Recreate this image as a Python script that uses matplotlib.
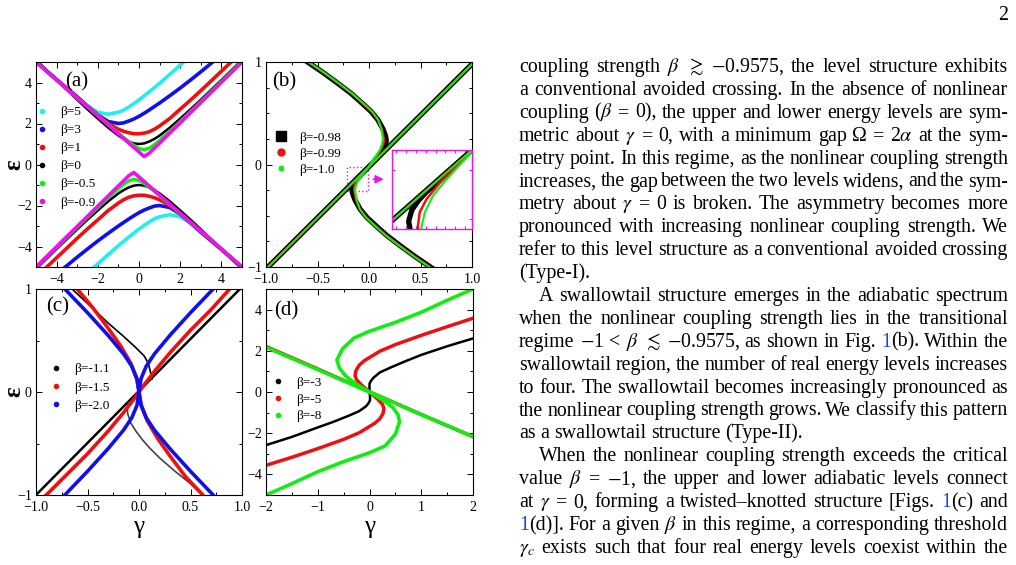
import matplotlib
matplotlib.use("Agg")
import matplotlib.pyplot as plt
from matplotlib.lines import Line2D
from matplotlib.patches import Rectangle
from matplotlib.ticker import MultipleLocator, FixedLocator, FixedFormatter
from matplotlib.transforms import IdentityTransform

plt.rcParams['font.family'] = ['Liberation Serif', 'DejaVu Serif']
plt.rcParams['mathtext.fontset'] = 'stix'
plt.rcParams['axes.linewidth'] = 0.8

# ---------------- panel (a): beta >= -0.9575 ----------------
a_gamma = [-5, -4, -3, -2.5, -2, -1.5, -1, -0.75, -0.5, -0.25, 0,
           0.25, 0.5, 0.75, 1, 1.5, 2, 2.5, 3, 4, 5]
a_labels = ['β=5', 'β=3', 'β=1', 'β=0', 'β=-0.5', 'β=-0.9']
a_colors = ['#22eeee', '#1010ee', '#ee1010', 'black', '#10ee10', '#ee10ee']
a_up_b5 = [5.01, 4.13, 3.26, 2.85, 2.55, 2.45, 2.55, 2.65, 2.8, 2.97, 3.15,
           3.35, 3.55, 3.75, 3.96, 4.4, 4.85, 5.3, 5.75, 6.6, 7.5]
a_lo_b5 = [-7.5, -6.6, -5.75, -5.3, -4.85, -4.4, -3.96, -3.75, -3.55, -3.35, -3.15,
           -2.97, -2.8, -2.65, -2.55, -2.45, -2.55, -2.85, -3.26, -4.13, -5.01]
a_up_b3 = [5.02, 4.15, 3.3, 2.85, 2.42, 2.1, 2.0, 2.03, 2.12, 2.22, 2.35,
           2.5, 2.66, 2.83, 3.0, 3.36, 3.73, 4.12, 4.52, 5.35, 6.2]
a_lo_b3 = [-6.2, -5.35, -4.52, -4.12, -3.73, -3.36, -3.0, -2.83, -2.66, -2.5, -2.35,
           -2.22, -2.12, -2.03, -2.0, -2.1, -2.42, -2.85, -3.3, -4.15, -5.02]
a_up_b1 = [5.01, 4.13, 3.26, 2.82, 2.4, 2.0, 1.72, 1.62, 1.55, 1.5, 1.5,
           1.53, 1.6, 1.72, 1.88, 2.25, 2.7, 3.14, 3.6, 4.55, 5.5]
a_lo_b1 = [-5.5, -4.55, -3.6, -3.14, -2.7, -2.25, -1.88, -1.72, -1.6, -1.53, -1.5,
           -1.5, -1.55, -1.62, -1.72, -2.0, -2.4, -2.82, -3.26, -4.13, -5.01]
a_up_b0 = [5.1, 4.12, 3.16, 2.69, 2.24, 1.8, 1.41, 1.25, 1.12, 1.03, 1.0,
           1.03, 1.12, 1.25, 1.41, 1.8, 2.24, 2.69, 3.16, 4.12, 5.1]
a_lo_b0 = [-5.1, -4.12, -3.16, -2.69, -2.24, -1.8, -1.41, -1.25, -1.12, -1.03, -1.0,
           -1.03, -1.12, -1.25, -1.41, -1.8, -2.24, -2.69, -3.16, -4.12, -5.1]
a_up_bm05 = [5.01, 4.12, 3.24, 2.82, 2.4, 1.96, 1.53, 1.32, 1.12, 0.93, 0.78,
             0.72, 0.8, 0.97, 1.18, 1.62, 2.1, 2.58, 3.07, 4.05, 5.03]
a_lo_bm05 = [-5.03, -4.05, -3.07, -2.58, -2.1, -1.62, -1.18, -0.97, -0.8, -0.72, -0.78,
             -0.93, -1.12, -1.32, -1.53, -1.96, -2.4, -2.82, -3.24, -4.12, -5.01]
a_up_bm09 = [5.0, 4.12, 3.24, 2.81, 2.37, 1.93, 1.49, 1.27, 1.05, 0.83, 0.61,
             0.39, 0.55, 0.80, 1.04, 1.54, 2.03, 2.53, 3.02, 4.01, 5.0]
a_lo_bm09 = [-5.0, -4.01, -3.02, -2.53, -2.03, -1.54, -1.04, -0.80, -0.55, -0.39, -0.61,
             -0.83, -1.05, -1.27, -1.49, -1.93, -2.37, -2.81, -3.24, -4.12, -5.0]

# ---------------- panel (b): swallowtail ----------------
b_labels = ['β=-0.98', 'β=-0.99', 'β=-1.0']
b_diag_gamma = [-1.0, 1.0]
b_diag_eps = [-1.02, 0.98]
b_up_gamma_98 = [-0.64, -0.45, -0.3, -0.17, -0.075, 0.022, 0.087, 0.136, 0.16, 0.168, 0.16, 0.145, 0.13, 0.11, 0.08]
b_up_eps_98 = [1.03, 0.9, 0.79, 0.69, 0.605, 0.515, 0.435, 0.345, 0.28, 0.232, 0.2, 0.165, 0.135, 0.1, 0.065]
b_lo_gamma_98 = [0.64, 0.45, 0.3, 0.17, 0.075, -0.022, -0.087, -0.136, -0.16, -0.168, -0.16, -0.145, -0.125, -0.10]
b_lo_eps_98 = [-1.03, -0.9, -0.79, -0.69, -0.605, -0.515, -0.435, -0.345, -0.28, -0.232, -0.2, -0.175, -0.15, -0.125]
b_up_gamma_99 = [-0.635, -0.445, -0.295, -0.165, -0.07, 0.027, 0.088, 0.125, 0.145, 0.14, 0.123, 0.09, 0.057, 0.03]
b_up_eps_99 = [1.03, 0.9, 0.79, 0.69, 0.605, 0.515, 0.435, 0.345, 0.25, 0.206, 0.16, 0.105, 0.06, 0.02]
b_lo_gamma_99 = [0.635, 0.445, 0.295, 0.165, 0.07, -0.027, -0.088, -0.125, -0.145, -0.14, -0.123, -0.09, -0.057, -0.03]
b_lo_eps_99 = [-1.03, -0.9, -0.79, -0.69, -0.605, -0.515, -0.435, -0.345, -0.25, -0.206, -0.169, -0.123, -0.086, -0.055]
b_up_gamma_100 = [-0.63, -0.44, -0.29, -0.16, -0.065, 0.032, 0.09, 0.12, 0.136, 0.127, 0.107, 0.074, 0.04, 0.01, 0.0]
b_up_eps_100 = [1.03, 0.9, 0.79, 0.69, 0.605, 0.515, 0.435, 0.345, 0.25, 0.2, 0.145, 0.095, 0.05, 0.0, -0.02]
b_lo_gamma_100 = [0.63, 0.44, 0.29, 0.16, 0.065, -0.032, -0.09, -0.12, -0.136, -0.127, -0.107, -0.074, -0.04, -0.01, 0.0]
b_lo_eps_100 = [-1.03, -0.9, -0.79, -0.69, -0.605, -0.515, -0.435, -0.345, -0.25, -0.206, -0.16, -0.114, -0.072, -0.035, -0.02]

# ---------------- panel (c): twisted-knotted ----------------
c_labels = ['β=-1.1', 'β=-1.5', 'β=-2.0']
c_rise_gamma_11 = [-1.0, 0.98]
c_rise_eps_11 = [-1.0, 1.0]
c_fall_up_gamma_11 = [-0.65, -0.5, -0.3, -0.15, -0.03, 0.05, 0.09, 0.11, 0.12, 0.125]
c_fall_up_eps_11 = [1.0, 0.86, 0.67, 0.54, 0.43, 0.35, 0.28, 0.2, 0.15, 0.125]
c_fall_lo_gamma_11 = [-0.1, -0.115, -0.11, -0.08, -0.03, 0.03, 0.1, 0.2, 0.35, 0.5, 0.62]
c_fall_lo_eps_11 = [-0.1, -0.15, -0.21, -0.3, -0.38, -0.46, -0.54, -0.64, -0.77, -0.89, -1.0]
c_rise_gamma_15 = [-0.9, -0.7, -0.5, -0.3, -0.15, -0.05, 0.0, 0.05, 0.15, 0.3, 0.5, 0.7, 0.88]
c_rise_eps_15 = [-1.0, -0.8, -0.6, -0.38, -0.2, -0.07, 0.0, 0.07, 0.2, 0.38, 0.6, 0.8, 1.0]
c_fall_gamma_15 = [-0.6, -0.45, -0.3, -0.18, -0.08, -0.02, 0.0, 0.02, 0.08, 0.18, 0.3, 0.45, 0.62]
c_fall_eps_15 = [1.0, 0.82, 0.62, 0.45, 0.28, 0.12, 0.0, -0.12, -0.28, -0.45, -0.62, -0.82, -1.0]
c_rise_gamma_20 = [-0.72, -0.5, -0.3, -0.15, -0.07, -0.02, 0.0, 0.02, 0.07, 0.15, 0.3, 0.5, 0.72]
c_rise_eps_20 = [-1.0, -0.77, -0.55, -0.37, -0.25, -0.13, 0.0, 0.13, 0.25, 0.37, 0.55, 0.77, 1.0]
c_fall_gamma_20 = [-0.72, -0.5, -0.3, -0.15, -0.07, -0.02, 0.0, 0.02, 0.07, 0.15, 0.3, 0.5, 0.72]
c_fall_eps_20 = [1.0, 0.77, 0.55, 0.37, 0.25, 0.13, 0.0, -0.13, -0.25, -0.37, -0.55, -0.77, -1.0]

# ---------------- panel (d): strong nonlinear coupling ----------------
d_labels = ['β=-3', 'β=-5', 'β=-8']
d_fall_gamma = [-2.0, -1.0, 0.0, 1.0, 2.0]
d_fall_eps_3 = [2.19, 1.1, 0.0, -1.1, -2.18]
d_fall_eps_5 = [2.21, 1.12, 0.01, -1.09, -2.17]
d_fall_eps_8 = [2.17, 1.09, 0.0, -1.1, -2.16]
d_s_gamma_3 = [-2.0, -1.5, -1.0, -0.7, -0.4, -0.2, -0.07, -0.02, 0.01, 0.01, 0.0,
               0.0, 0.0, 0.03, 0.08, 0.2, 0.4, 0.7, 1.0, 1.5, 2.0]
d_s_eps_3 = [-2.58, -2.18, -1.72, -1.45, -1.15, -0.93, -0.7, -0.55, -0.4, -0.2, 0.0,
             0.2, 0.4, 0.55, 0.7, 0.95, 1.18, 1.5, 1.8, 2.22, 2.6]
d_s_gamma_5 = [-2.0, -1.5, -1.0, -0.5, -0.2, -0.05, 0.1, 0.2, 0.26, 0.28, 0.25, 0.16, 0.0,
               -0.16, -0.25, -0.28, -0.26, -0.2, -0.1, 0.05, 0.2, 0.5, 1.0, 1.5, 2.0]
d_s_eps_5 = [-3.56, -3.17, -2.75, -2.3, -1.98, -1.75, -1.52, -1.3, -1.05, -0.8, -0.6, -0.35, 0.0,
             0.35, 0.6, 0.8, 1.05, 1.3, 1.52, 1.75, 1.98, 2.3, 2.75, 3.17, 3.58]
d_s_gamma_8 = [-2.0, -1.5, -1.0, -0.5, 0.0, 0.3, 0.5, 0.58, 0.55, 0.45, 0.26, 0.0,
               -0.26, -0.45, -0.58, -0.63, -0.52, -0.3, 0.0, 0.5, 1.0, 1.5, 2.0]
d_s_eps_8 = [-5.0, -4.45, -3.87, -3.38, -2.95, -2.62, -2.05, -1.45, -1.1, -0.75, -0.39, 0.0,
             0.39, 0.75, 1.15, 1.55, 2.1, 2.62, 2.95, 3.38, 3.87, 4.45, 5.0]

# ---------------- text column ----------------
body_text = [
    "coupling strength $\\beta$ $\\gtrsim$ $-$0.9575, the level structure exhibits",
    "a conventional avoided crossing. In the absence of nonlinear",
    "coupling ($\\beta$ = 0), the upper and lower energy levels are sym-",
    "metric about $\\gamma$ = 0, with a minimum gap Ω = 2$\\alpha$ at the sym-",
    "metry point. In this regime, as the nonlinear coupling strength",
    "increases, the gap between the two levels widens, and the sym-",
    "metry about $\\gamma$ = 0 is broken. The asymmetry becomes more",
    "pronounced with increasing nonlinear coupling strength. We",
    "refer to this level structure as a conventional avoided crossing",
    "(Type-I).",
    "A swallowtail structure emerges in the adiabatic spectrum",
    "when the nonlinear coupling strength lies in the transitional",
    "regime $-$1 < $\\beta$ $\\lesssim$ $-$0.9575, as shown in Fig. §1§(b). Within the",
    "swallowtail region, the number of real energy levels increases",
    "to four. The swallowtail becomes increasingly pronounced as",
    "the nonlinear coupling strength grows. We classify this pattern",
    "as a swallowtail structure (Type-II).",
    "When the nonlinear coupling strength exceeds the critical",
    "value $\\beta$ = $-$1, the upper and lower adiabatic levels connect",
    "at $\\gamma$ = 0, forming a twisted–knotted structure [Figs. §1§(c) and",
    "§1§(d)]. For a given $\\beta$ in this regime, a corresponding threshold",
    "$\\gamma_c$ exists such that four real energy levels coexist within the",
]
body_indent = [False] * 10 + [True] + [False] * 6 + [True] + [False] * 4
body_justify = [True] * 9 + [False] + [True] * 6 + [False] + [True] * 5

W, H = 1016, 565
fig = plt.figure(figsize=(W / 100, H / 100), dpi=100)


def px_axes(l, t, r, b):
    return fig.add_axes([l / W, 1 - b / H, (r - l) / W, (b - t) / H])


def style(ax, xmaj, xmin, ymaj, ymin):
    ax.xaxis.set_major_locator(MultipleLocator(xmaj))
    ax.xaxis.set_minor_locator(MultipleLocator(xmin))
    ax.yaxis.set_major_locator(MultipleLocator(ymaj))
    ax.yaxis.set_minor_locator(MultipleLocator(ymin))
    ax.tick_params(which='both', direction='in', top=True, right=True,
                   labelsize=10, pad=3, width=0.7)
    ax.tick_params(axis='x', pad=4.5)
    ax.tick_params(which='major', length=4)
    ax.tick_params(which='minor', length=2)


def legend(ax, labels, colors, anchor, sizes, markers, spacing):
    hs = [Line2D([], [], ls='none', marker=m, ms=s, color=c, label=l)
          for l, c, s, m in zip(labels, colors, sizes, markers)]
    ax.legend(handles=hs, loc='upper left', bbox_to_anchor=anchor, frameon=False,
              fontsize=9.5, handlelength=0.9, handletextpad=0.9,
              labelspacing=spacing, borderpad=0, borderaxespad=0)


def eps_label(ax):
    ax.set_ylabel('ε', fontsize=18, fontweight='bold')
    ax.yaxis.set_label_coords(-0.05, 0.5)


# ---- (a)
ax_a = px_axes(36, 62, 242, 267)
a_upper = [a_up_b5, a_up_b3, a_up_b1, a_up_b0, a_up_bm05, a_up_bm09]
a_lower = [a_lo_b5, a_lo_b3, a_lo_b1, a_lo_b0, a_lo_bm05, a_lo_bm09]
a_lw = [2.6, 2.6, 2.6, 1.8, 2.4, 2.6]
for up, lo, c, lw in zip(a_upper, a_lower, a_colors, a_lw):
    ax_a.plot(a_gamma, up, color=c, lw=lw, solid_capstyle='butt')
    ax_a.plot(a_gamma, lo, color=c, lw=lw, solid_capstyle='butt')
ax_a.set_xlim(-5, 5)
ax_a.set_ylim(-5, 5)
style(ax_a, 2, 1, 2, 1)
eps_label(ax_a)
ax_a.text(0.14, 0.95, '(a)', transform=ax_a.transAxes, fontsize=15, va='top')
legend(ax_a, a_labels, a_colors, (0.0, 0.785), [3] * 6, ['o'] * 6, 0.44)

# ---- (b)
ax_b = px_axes(266, 62, 472, 267)
b_up_g = [b_up_gamma_98, b_up_gamma_99, b_up_gamma_100]
b_up_e = [b_up_eps_98, b_up_eps_99, b_up_eps_100]
b_lo_g = [b_lo_gamma_98, b_lo_gamma_99, b_lo_gamma_100]
b_lo_e = [b_lo_eps_98, b_lo_eps_99, b_lo_eps_100]
b_colors = ['black', '#ee1010', '#10ee10']
b_lw = [3.8, 1.8, 1.5]
ax_in = px_axes(392, 150, 472, 229)
for ax in (ax_b, ax_in):
    for ug, ue, lg, le, c, lw in zip(b_up_g, b_up_e, b_lo_g, b_lo_e, b_colors, b_lw):
        ax.plot(b_diag_gamma, b_diag_eps, color=c, lw=lw)
        ax.plot(ug, ue, color=c, lw=lw)
        ax.plot(lg, le, color=c, lw=lw)
ax_b.set_xlim(-1, 1)
ax_b.set_ylim(-1, 1)
style(ax_b, 0.5, 0.25, 1, 0.25)
ax_b.yaxis.set_major_formatter(FixedFormatter(['−1', '0', '1']))
ax_b.yaxis.set_major_locator(FixedLocator([-1, 0, 1]))
ax_b.text(0.03, 0.95, '(b)', transform=ax_b.transAxes, fontsize=15, va='top')
legend(ax_b, b_labels, b_colors, (0.045, 0.66), [7, 5, 3], ['s', 'o', 's'], 0.28)
ax_b.add_patch(Rectangle((-0.21, -0.254), 0.202, 0.226, fill=False, ls=':',
                         ec='#ee10ee', lw=1.0))
ax_b.annotate('', xy=(0.17, -0.144), xytext=(0.015, -0.144),
              arrowprops=dict(arrowstyle='-|>', color='#ee10ee', lw=1.2, mutation_scale=12))
ax_in.set_xlim(-0.21, -0.008)
ax_in.set_ylim(-0.254, -0.028)
ax_in.set_facecolor('white')
for s in ax_in.spines.values():
    s.set_color('#ee10ee')
    s.set_linewidth(1.0)
ax_in.xaxis.set_major_locator(MultipleLocator(0.025))
ax_in.yaxis.set_major_locator(FixedLocator([-0.225, -0.085]))
ax_in.tick_params(direction='in', top=True, right=True, color='#ee10ee',
                  labelbottom=False, labelleft=False, length=2.5)

# ---- (c)
ax_c = px_axes(36, 289, 242, 495)
ax_c.plot(c_rise_gamma_11, c_rise_eps_11, color='black', lw=1.8)
ax_c.plot(c_fall_up_gamma_11, c_fall_up_eps_11, color='black', lw=1.2)
ax_c.plot(c_fall_lo_gamma_11, c_fall_lo_eps_11, color='#444444', lw=1.2)
ax_c.plot(c_rise_gamma_15, c_rise_eps_15, color='#ee1010', lw=2.6)
ax_c.plot(c_fall_gamma_15, c_fall_eps_15, color='#ee1010', lw=2.6)
ax_c.plot(c_rise_gamma_20, c_rise_eps_20, color='#1010ee', lw=2.6)
ax_c.plot(c_fall_gamma_20, c_fall_eps_20, color='#1010ee', lw=2.6)
ax_c.set_xlim(-1, 1)
ax_c.set_ylim(-1, 1)
style(ax_c, 0.5, 0.25, 1, 0.5)
ax_c.yaxis.set_major_locator(FixedLocator([-1, 0, 1]))
ax_c.yaxis.set_major_formatter(FixedFormatter(['−1', '0', '1']))
eps_label(ax_c)
ax_c.set_xlabel('γ', fontsize=18, labelpad=1)
ax_c.text(0.05, 0.96, '(c)', transform=ax_c.transAxes, fontsize=15, va='top')
legend(ax_c, c_labels, ['black', '#ee1010', '#1010ee'], (0.07, 0.64), [3] * 3, ['o'] * 3, 0.45)

# ---- (d)
ax_d = px_axes(266, 289, 473, 495)
d_fall = [d_fall_eps_3, d_fall_eps_5, d_fall_eps_8]
d_s_g = [d_s_gamma_3, d_s_gamma_5, d_s_gamma_8]
d_s_e = [d_s_eps_3, d_s_eps_5, d_s_eps_8]
d_colors = ['black', '#ee1010', '#10ee10']
d_lw = [1.8, 2.5, 2.6]
for fe, sg, se, c, lw in zip(d_fall, d_s_g, d_s_e, d_colors, d_lw):
    ax_d.plot(d_fall_gamma, fe, color=c, lw=lw)
    ax_d.plot(sg, se, color=c, lw=lw)
ax_d.set_xlim(-2, 2)
ax_d.set_ylim(-5, 5)
style(ax_d, 1, 0.5, 2, 1)
ax_d.set_xlabel('γ', fontsize=18, labelpad=1)
ax_d.text(0.04, 0.94, '(d)', transform=ax_d.transAxes, fontsize=15, va='top')
legend(ax_d, d_labels, d_colors, (0.03, 0.575), [3] * 3, ['o'] * 3, 0.35)

# ---- text column, justified word by word
renderer = fig.canvas.get_renderer()
TXT = 14.3
x_left, x_right, indent = 519, 1008, 20
space_px = 4.8
for i, (line, ind, just) in enumerate(zip(body_text, body_indent, body_justify)):
    y = H - (72 + i * 22.9)
    x0 = x_left + (indent if ind else 0)
    words = []
    for w in line.split(' '):
        arts = []
        for k, seg in enumerate(w.split('§')):
            if seg:
                t = fig.text(0, 0, seg, fontsize=TXT, transform=IdentityTransform(),
                             color='#1a3cff' if k % 2 else 'black', va='baseline')
                arts.append((t, t.get_window_extent(renderer).width))
        words.append(arts)
    total = sum(wd for arts in words for _, wd in arts)
    gap = (x_right - x0 - total) / (len(words) - 1) if just and len(words) > 1 else space_px
    x = x0
    for arts in words:
        for t, wd in arts:
            t.set_position((x, y))
            x += wd
        x += gap

fig.text(1008, H - 20, '2', fontsize=TXT, ha='right', va='baseline',
         transform=IdentityTransform())

fig.savefig('out.png', dpi=100)
